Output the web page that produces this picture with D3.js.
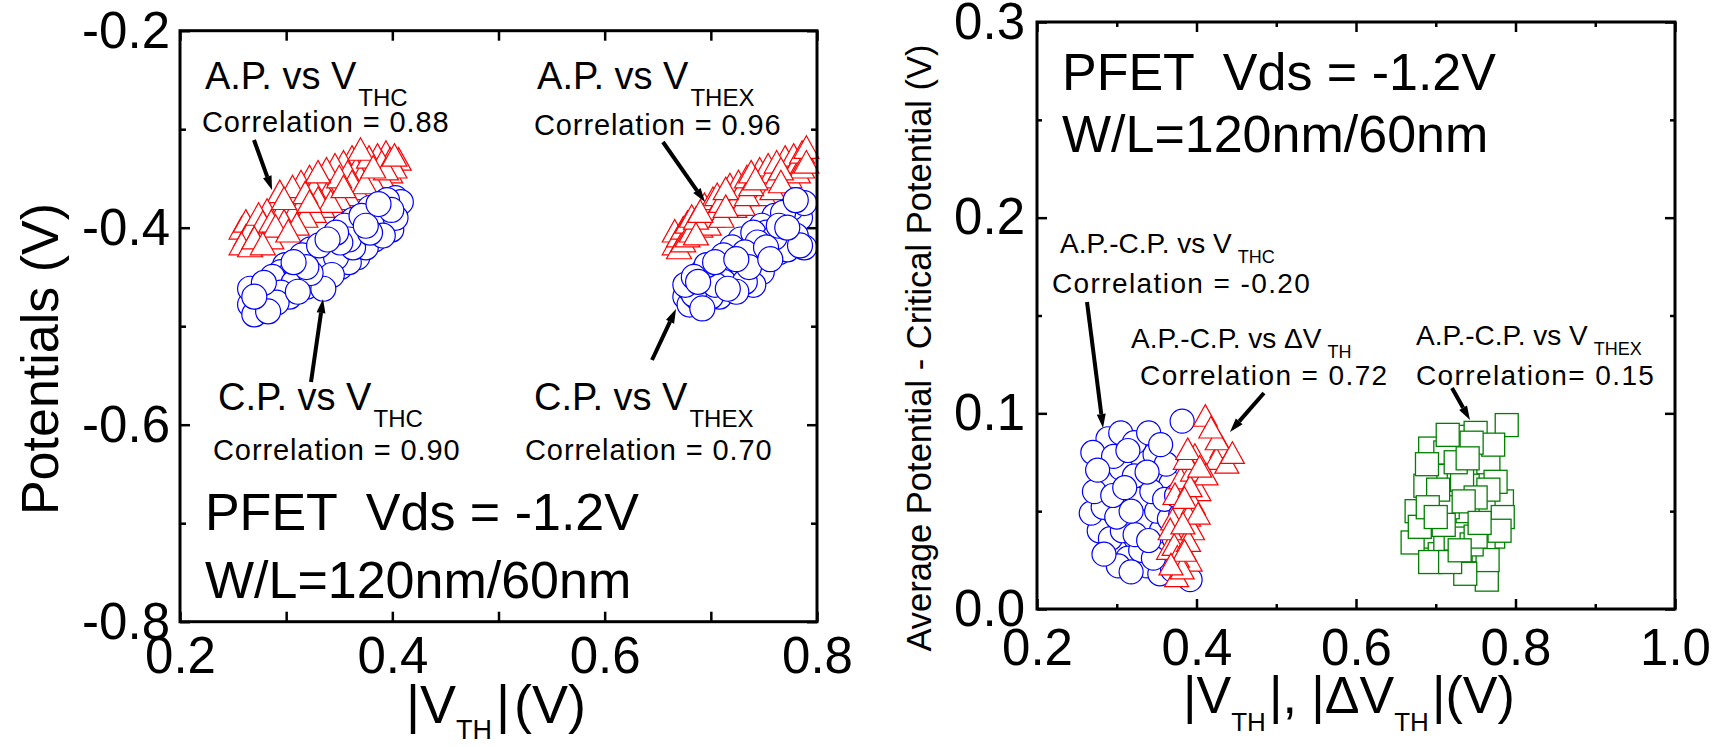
<!DOCTYPE html>
<html>
<head>
<meta charset="utf-8">
<script src="https://cdn.jsdelivr.net/npm/d3@7"></script>
<style>
  body { margin: 0; background: #fff; }
  text { font-family: "Liberation Sans", Arial, sans-serif; }
</style>
</head>
<body>
<svg id="chart" width="1719" height="747"></svg>
<script>
// ---------- data ----------
// left panel: average / critical potential vs |Vth|
var apVsThc = [[0.258,-0.402],[0.258,-0.418],[0.262,-0.41],[0.262,-0.395],[0.266,-0.42],[0.266,-0.404],[0.27,-0.398],
  [0.27,-0.412],[0.274,-0.388],[0.274,-0.405],[0.278,-0.418],[0.278,-0.396],[0.282,-0.384],[0.282,-0.405],[0.286,-0.395],
  [0.286,-0.412],[0.29,-0.378],[0.29,-0.4],[0.294,-0.388],[0.294,-0.365],[0.298,-0.372],[0.298,-0.395],[0.302,-0.382],
  [0.302,-0.405],[0.306,-0.36],[0.306,-0.388],[0.31,-0.372],[0.31,-0.398],[0.314,-0.355],[0.314,-0.38],[0.318,-0.366],
  [0.318,-0.39],[0.322,-0.35],[0.322,-0.375],[0.326,-0.362],[0.326,-0.385],[0.33,-0.345],[0.33,-0.372],[0.334,-0.356],
  [0.334,-0.38],[0.338,-0.342],[0.338,-0.368],[0.342,-0.352],[0.342,-0.375],[0.346,-0.338],[0.346,-0.362],[0.35,-0.35],
  [0.35,-0.372],[0.354,-0.335],[0.354,-0.36],[0.358,-0.345],[0.358,-0.368],[0.362,-0.33],[0.362,-0.355],[0.366,-0.342],
  [0.366,-0.362],[0.37,-0.322],[0.37,-0.35],[0.374,-0.338],[0.374,-0.356],[0.378,-0.33],[0.378,-0.35],[0.382,-0.34],
  [0.382,-0.355],[0.386,-0.328],[0.386,-0.345],[0.39,-0.335],[0.39,-0.35],[0.394,-0.325],[0.394,-0.342],[0.398,-0.332],
  [0.398,-0.345],[0.402,-0.328],[0.402,-0.34],[0.406,-0.332]];
var cpVsThc = [[0.266,-0.478],[0.266,-0.462],[0.27,-0.488],[0.27,-0.47],[0.274,-0.466],[0.274,-0.48],[0.279,-0.456],
  [0.279,-0.474],[0.283,-0.468],[0.283,-0.485],[0.287,-0.45],[0.287,-0.462],[0.291,-0.476],[0.291,-0.455],[0.295,-0.445],
  [0.295,-0.466],[0.299,-0.458],[0.299,-0.438],[0.303,-0.47],[0.303,-0.448],[0.307,-0.435],[0.307,-0.456],[0.311,-0.444],
  [0.311,-0.465],[0.315,-0.428],[0.315,-0.452],[0.319,-0.44],[0.319,-0.46],[0.323,-0.422],[0.323,-0.446],[0.327,-0.434],
  [0.327,-0.455],[0.331,-0.418],[0.331,-0.442],[0.335,-0.428],[0.335,-0.462],[0.339,-0.436],[0.339,-0.412],[0.343,-0.448],
  [0.343,-0.422],[0.347,-0.405],[0.347,-0.43],[0.351,-0.44],[0.351,-0.415],[0.355,-0.398],[0.355,-0.425],[0.359,-0.412],
  [0.359,-0.435],[0.363,-0.392],[0.363,-0.42],[0.367,-0.405],[0.367,-0.43],[0.371,-0.388],[0.371,-0.412],[0.375,-0.398],
  [0.375,-0.42],[0.379,-0.38],[0.379,-0.405],[0.383,-0.392],[0.383,-0.412],[0.387,-0.376],[0.387,-0.4],[0.391,-0.385],
  [0.391,-0.408],[0.395,-0.372],[0.395,-0.395],[0.399,-0.382],[0.399,-0.402],[0.403,-0.37],[0.403,-0.39],[0.408,-0.374]];
var apVsThex = [[0.666,-0.418],[0.666,-0.405],[0.67,-0.41],[0.67,-0.422],[0.674,-0.402],[0.674,-0.415],[0.678,-0.396],
  [0.678,-0.41],[0.682,-0.405],[0.682,-0.39],[0.686,-0.392],[0.686,-0.408],[0.69,-0.385],[0.69,-0.4],[0.694,-0.395],
  [0.694,-0.378],[0.698,-0.385],[0.698,-0.398],[0.702,-0.372],[0.702,-0.39],[0.706,-0.382],[0.706,-0.368],[0.71,-0.375],
  [0.71,-0.39],[0.714,-0.362],[0.714,-0.38],[0.718,-0.372],[0.718,-0.358],[0.722,-0.365],[0.722,-0.38],[0.726,-0.355],
  [0.726,-0.37],[0.73,-0.362],[0.73,-0.378],[0.734,-0.35],[0.734,-0.368],[0.738,-0.358],[0.738,-0.345],[0.742,-0.352],
  [0.742,-0.366],[0.746,-0.342],[0.746,-0.36],[0.75,-0.35],[0.75,-0.368],[0.754,-0.338],[0.754,-0.356],[0.758,-0.345],
  [0.758,-0.362],[0.762,-0.335],[0.762,-0.35],[0.766,-0.342],[0.766,-0.355],[0.77,-0.33],[0.77,-0.348],[0.774,-0.338],
  [0.774,-0.35],[0.778,-0.328],[0.778,-0.342],[0.782,-0.335],[0.782,-0.345],[0.786,-0.325],[0.786,-0.34],[0.79,-0.32],
  [0.79,-0.335]];
var cpVsThex = [[0.676,-0.47],[0.676,-0.458],[0.68,-0.462],[0.68,-0.478],[0.684,-0.45],[0.684,-0.468],[0.688,-0.472],
  [0.688,-0.455],[0.692,-0.482],[0.692,-0.445],[0.696,-0.46],[0.696,-0.438],[0.7,-0.47],[0.7,-0.448],[0.704,-0.435],
  [0.704,-0.458],[0.708,-0.448],[0.708,-0.47],[0.712,-0.428],[0.712,-0.455],[0.716,-0.44],[0.716,-0.462],[0.72,-0.42],
  [0.72,-0.45],[0.724,-0.432],[0.724,-0.465],[0.728,-0.412],[0.728,-0.445],[0.732,-0.425],[0.732,-0.455],[0.736,-0.418],
  [0.736,-0.44],[0.74,-0.405],[0.74,-0.458],[0.744,-0.43],[0.744,-0.415],[0.748,-0.398],[0.748,-0.445],[0.752,-0.42],
  [0.752,-0.405],[0.756,-0.395],[0.756,-0.432],[0.76,-0.41],[0.76,-0.388],[0.764,-0.425],[0.764,-0.398],[0.768,-0.385],
  [0.768,-0.41],[0.772,-0.4],[0.772,-0.422],[0.776,-0.38],[0.776,-0.395],[0.78,-0.372],[0.78,-0.408],[0.784,-0.39],
  [0.784,-0.418],[0.788,-0.375],[0.788,-0.42]];

// right panel: A.P. - C.P.
var diffVsThc = [[0.289,0.087],[0.305,0.09],[0.322,0.085],[0.34,0.09],[0.355,0.084],[0.382,0.096],
  [0.27,0.08],[0.296,0.078],[0.314,0.081],[0.33,0.076],[0.348,0.079],[0.362,0.074],
  [0.276,0.071],[0.288,0.066],[0.305,0.072],[0.322,0.068],[0.338,0.07],[0.352,0.066],[0.368,0.064],
  [0.272,0.06],[0.295,0.058],[0.31,0.062],[0.327,0.056],[0.344,0.06],[0.36,0.056],[0.375,0.058],
  [0.268,0.049],[0.283,0.052],[0.3,0.047],[0.318,0.05],[0.334,0.045],[0.35,0.05],[0.366,0.046],[0.38,0.048],
  [0.278,0.04],[0.292,0.036],[0.307,0.04],[0.323,0.038],[0.34,0.035],[0.356,0.04],[0.372,0.036],[0.386,0.04],
  [0.284,0.028],[0.298,0.03],[0.314,0.026],[0.33,0.03],[0.346,0.026],[0.362,0.03],[0.378,0.026],
  [0.302,0.022],[0.318,0.019],[0.338,0.022],[0.354,0.018],[0.37,0.02],[0.392,0.015]];
var diffVsDvth = [[0.411,0.098],[0.418,0.092],[0.426,0.086],[0.432,0.082],[0.445,0.079],[0.438,0.074],[0.425,0.076],
  [0.389,0.081],[0.386,0.076],[0.398,0.078],[0.404,0.072],[0.412,0.068],[0.395,0.07],
  [0.38,0.066],[0.392,0.062],[0.403,0.06],[0.373,0.058],[0.385,0.056],[0.396,0.053],[0.378,0.05],
  [0.402,0.048],[0.39,0.047],[0.37,0.045],[0.383,0.043],[0.395,0.04],[0.367,0.04],[0.378,0.037],[0.39,0.034],
  [0.372,0.032],[0.365,0.03],[0.385,0.029],[0.376,0.026],[0.392,0.024],[0.368,0.022],[0.382,0.02],[0.375,0.016]];
var diffVsThex = [[0.789,0.094],[0.75,0.09],[0.715,0.089],[0.693,0.082],[0.712,0.08],[0.74,0.077],[0.766,0.075],
  [0.772,0.084],[0.689,0.074],[0.733,0.066],[0.703,0.061],[0.72,0.058],[0.766,0.061],[0.75,0.057],[0.783,0.055],
  [0.676,0.05],[0.69,0.052],[0.727,0.044],[0.74,0.05],[0.755,0.044],[0.784,0.047],[0.71,0.043],[0.695,0.037],
  [0.671,0.034],[0.745,0.033],[0.772,0.037],[0.76,0.03],[0.718,0.024],[0.745,0.023],[0.693,0.024],[0.73,0.03],
  [0.764,0.015],[0.737,0.018],[0.705,0.028],[0.7,0.068],[0.725,0.075],[0.755,0.068],[0.68,0.042],[0.735,0.055],
  [0.76,0.05],[0.715,0.052],[0.7,0.047],[0.775,0.065],[0.745,0.085],[0.73,0.088],[0.725,0.036],[0.75,0.037],
  [0.712,0.033],[0.687,0.063],[0.78,0.04],[0.74,0.063],[0.765,0.025]];

// ticks
var leftXTicks = [0.2, 0.4, 0.6, 0.8], leftXMinor = [0.3, 0.5, 0.7];
var leftYTicks = [-0.8, -0.6, -0.4, -0.2], leftYMinor = [-0.7, -0.5, -0.3];
var rightXTicks = [0.2, 0.4, 0.6, 0.8, 1.0], rightXMinor = [0.3, 0.5, 0.7, 0.9];
var rightYTicks = [0.0, 0.1, 0.2, 0.3], rightYMinor = [0.05, 0.15, 0.25];

// annotation texts (anchored in data units)
var leftNotes = [
  {x: 0.2235, y: -0.2592, main: "A.P. vs V", sub: "THC"},
  {x: 0.5363, y: -0.2592, main: "A.P. vs V", sub: "THEX"},
  {x: 0.2358, y: -0.585, main: "C.P. vs V", sub: "THC"},
  {x: 0.5334, y: -0.585, main: "C.P. vs V", sub: "THEX"}
];
var leftCorr = [
  {x: 0.2207, y: -0.3028, t: "Correlation = 0.88"},
  {x: 0.5334, y: -0.3059, t: "Correlation = 0.96"},
  {x: 0.2311, y: -0.6358, t: "Correlation = 0.90"},
  {x: 0.525, y: -0.6358, t: "Correlation = 0.70"}
];
var leftArrows = [
  [0.2697, -0.311, 0.2867, -0.3617],
  [0.6549, -0.313, 0.6945, -0.3739],
  [0.3234, -0.5566, 0.3347, -0.4724],
  [0.6446, -0.5343, 0.6672, -0.4826]
];
var rightNotes = [
  {x: 0.2288, y: 0.1819, main: "A.P.-C.P. vs V", sub: "THC"},
  {x: 0.3179, y: 0.1334, main: "A.P.-C.P. vs \u0394V", sub: "TH"},
  {x: 0.6752, y: 0.1349, main: "A.P.-C.P. vs V", sub: "THEX"}
];
var rightCorr = [
  {x: 0.2188, y: 0.1615, t: "Correlation = -0.20"},
  {x: 0.3292, y: 0.1145, t: "Correlation = 0.72"},
  {x: 0.6752, y: 0.1145, t: "Correlation= 0.15"}
];
var rightArrows = [
  [0.2627, 0.1569, 0.2828, 0.0925],
  [0.4846, 0.1104, 0.442, 0.0905],
  [0.7204, 0.1129, 0.7429, 0.0966]
];

// ---------- drawing ----------
var svg = d3.select("#chart");
var FONT = "'Liberation Sans', Arial, sans-serif";

function fmt(d) { return d.toFixed(1); }

// the original plot draws samples in acquisition order, not sorted by x:
// interleave with a fixed stride so overlaps look like the figure
function interleave(arr, step) {
  var n = arr.length;
  while (d3.gcd ? d3.gcd(step, n) !== 1 : gcd(step, n) !== 1) step++;
  return d3.range(n).map(function(i) { return arr[(i * step) % n]; });
}
function gcd(a, b) { return b ? gcd(b, a % b) : a; }

// scales
var xL = d3.scaleLinear().domain([0.2, 0.8]).range([180, 817]),
    yL = d3.scaleLinear().domain([-0.8, -0.2]).range([621.7, 30.7]);
var xR = d3.scaleLinear().domain([0.2, 1.0]).range([1037, 1675]),
    yR = d3.scaleLinear().domain([0, 0.3]).range([609, 22]);

function styleAxis(g) {
  g.select(".domain").remove();
  g.selectAll(".tick line").attr("stroke", "#000").attr("stroke-width", 2.5);
  g.attr("font-family", FONT).attr("font-size", 51);
}
function bare(g) {
  styleAxis(g);
  g.selectAll(".tick text").remove();
}

function frame(x, y, o) {
  var x0 = x.range()[0], x1 = x.range()[1], y0 = y.range()[1], y1 = y.range()[0];
  // bottom & left with labels
  svg.append("g").attr("transform", "translate(0," + y1 + ")")
    .call(d3.axisBottom(x).tickValues(o.xt).tickFormat(fmt).tickSizeInner(-10).tickSizeOuter(0).tickPadding(o.xPad))
    .call(styleAxis);
  svg.append("g").attr("transform", "translate(" + x0 + ",0)")
    .call(d3.axisLeft(y).tickValues(o.yt).tickFormat(fmt).tickSizeInner(-10).tickSizeOuter(0).tickPadding(o.yPad))
    .call(styleAxis);
  // mirrored top & right
  svg.append("g").attr("transform", "translate(0," + y0 + ")")
    .call(d3.axisTop(x).tickValues(o.xt).tickSizeInner(-10).tickSizeOuter(0)).call(bare);
  svg.append("g").attr("transform", "translate(" + x1 + ",0)")
    .call(d3.axisRight(y).tickValues(o.yt).tickSizeInner(-10).tickSizeOuter(0)).call(bare);
  // minor ticks
  svg.append("g").attr("transform", "translate(0," + y1 + ")")
    .call(d3.axisBottom(x).tickValues(o.xm).tickSizeInner(-o.xmLen).tickSizeOuter(0)).call(bare);
  svg.append("g").attr("transform", "translate(0," + y0 + ")")
    .call(d3.axisTop(x).tickValues(o.xm).tickSizeInner(-o.xmLen).tickSizeOuter(0)).call(bare);
  svg.append("g").attr("transform", "translate(" + x0 + ",0)")
    .call(d3.axisLeft(y).tickValues(o.ym).tickSizeInner(-o.ymLen).tickSizeOuter(0)).call(bare);
  svg.append("g").attr("transform", "translate(" + x1 + ",0)")
    .call(d3.axisRight(y).tickValues(o.ym).tickSizeInner(-o.ymLen).tickSizeOuter(0)).call(bare);
  // box
  svg.append("rect")
    .attr("x", x0).attr("y", y0).attr("width", x1 - x0).attr("height", y1 - y0)
    .attr("fill", "none").attr("stroke", "#000").attr("stroke-width", 3);
}

function circles(data, x, y, r, color) {
  svg.append("g").selectAll("circle").data(interleave(data, 17)).enter().append("circle")
    .attr("cx", function(d) { return x(d[0]); })
    .attr("cy", function(d) { return y(d[1]); })
    .attr("r", r)
    .attr("fill", "#fff").attr("stroke", color).attr("stroke-width", 1.2);
}

function triangles(data, x, y, hw, color) {
  svg.append("g").selectAll("path").data(interleave(data, 13)).enter().append("path")
    .attr("d", "M0," + (-hw * 1.05) + "L" + hw + "," + (hw * 0.75) + "L" + (-hw) + "," + (hw * 0.75) + "Z")
    .attr("transform", function(d) { return "translate(" + x(d[0]) + "," + y(d[1]) + ")"; })
    .attr("fill", "#fff").attr("stroke", color).attr("stroke-width", 1.2);
}

function squares(data, x, y, s, color) {
  svg.append("g").selectAll("rect").data(interleave(data, 11)).enter().append("rect")
    .attr("x", function(d) { return x(d[0]) - s / 2; })
    .attr("y", function(d) { return y(d[1]) - s / 2; })
    .attr("width", s).attr("height", s)
    .attr("fill", "#fff").attr("stroke", color).attr("stroke-width", 1.3);
}

function notes(list, x, y, size, subSize, subDy, subDx) {
  list.forEach(function(n) {
    var t = svg.append("text").attr("x", x(n.x)).attr("y", y(n.y))
      .attr("font-size", size).style("white-space", "pre").text(n.main);
    t.append("tspan").attr("dx", subDx).attr("dy", subDy).attr("font-size", subSize).text(n.sub);
  });
}

function corr(list, x, y, size, spacing) {
  svg.append("g").selectAll("text").data(list).enter().append("text")
    .attr("x", function(d) { return x(d.x); })
    .attr("y", function(d) { return y(d.y); })
    .attr("font-size", size).attr("letter-spacing", spacing)
    .style("white-space", "pre")
    .text(function(d) { return d.t; });
}

function arrows(list, x, y) {
  list.forEach(function(a) {
    var x1 = x(a[0]), y1 = y(a[1]), x2 = x(a[2]), y2 = y(a[3]);
    var dx = x2 - x1, dy = y2 - y1, len = Math.sqrt(dx * dx + dy * dy);
    var ux = dx / len, uy = dy / len, hl = 14, hw = 4.5;
    var bx = x2 - ux * hl, by = y2 - uy * hl;
    svg.append("line").attr("x1", x1).attr("y1", y1).attr("x2", bx).attr("y2", by)
      .attr("stroke", "#000").attr("stroke-width", 4);
    svg.append("path")
      .attr("d", "M" + x2 + "," + y2 + "L" + (bx - uy * hw) + "," + (by + ux * hw) +
                 "L" + (bx + uy * hw) + "," + (by - ux * hw) + "Z")
      .attr("fill", "#000");
  });
}

// ----- left panel -----
triangles(apVsThc, xL, yL, 12.5, "#ff0000");
circles(cpVsThc, xL, yL, 12.5, "#0000ff");
triangles(apVsThex, xL, yL, 12.5, "#ff0000");
circles(cpVsThex, xL, yL, 12.5, "#0000ff");
frame(xL, yL, {xt: leftXTicks, xm: leftXMinor, yt: leftYTicks, ym: leftYMinor,
               xPad: 15, yPad: 10, xmLen: 10, ymLen: 6});

notes(leftNotes, xL, yL, 38, 24, 17, 2);
corr(leftCorr, xL, yL, 29, 0.9);
arrows(leftArrows, xL, yL);

svg.append("text").attr("x", xL(0.2235)).attr("y", yL(-0.707))
  .attr("font-size", 52).style("white-space", "pre").text("PFET  Vds = -1.2V");
svg.append("text").attr("x", xL(0.2235)).attr("y", yL(-0.776))
  .attr("font-size", 52).text("W/L=120nm/60nm");

// axis titles
svg.append("text")
  .attr("transform", "translate(58,359) rotate(-90)")
  .attr("text-anchor", "middle").attr("font-size", 52)
  .text("Potentials (V)");
var tl = svg.append("text").attr("x", 406).attr("y", 723).attr("font-size", 54);
tl.append("tspan").text("|V");
tl.append("tspan").attr("dy", 16).attr("font-size", 27).text("TH");
tl.append("tspan").attr("dy", -16).attr("dx", 4).text("|");
tl.append("tspan").attr("dx", 4).text("(V)");

// ----- right panel -----
circles(diffVsThc, xR, yR, 12, "#0000ff");
triangles(diffVsDvth, xR, yR, 12, "#ff0000");
squares(diffVsThex, xR, yR, 23, "#008000");
frame(xR, yR, {xt: rightXTicks, xm: rightXMinor, yt: rightYTicks, ym: rightYMinor,
               xPad: 20, yPad: 12, xmLen: 5, ymLen: 5});

notes(rightNotes, xR, yR, 28, 18, 10, 6);
corr(rightCorr, xR, yR, 28, 1.4);
arrows(rightArrows, xR, yR);

svg.append("text").attr("x", xR(0.2313)).attr("y", yR(0.2652))
  .attr("font-size", 52).style("white-space", "pre").text("PFET  Vds = -1.2V");
svg.append("text").attr("x", xR(0.2313)).attr("y", yR(0.2336))
  .attr("font-size", 52).text("W/L=120nm/60nm");

svg.append("text")
  .attr("transform", "translate(931,348) rotate(-90)")
  .attr("text-anchor", "middle").attr("font-size", 34.5)
  .text("Average Potential - Critical Potential (V)");
var tr = svg.append("text").attr("x", 1183).attr("y", 713).attr("font-size", 52);
tr.append("tspan").text("|V");
tr.append("tspan").attr("dy", 18).attr("font-size", 26).text("TH");
tr.append("tspan").attr("dy", -18).attr("dx", 3).text("|, |\u0394V");
tr.append("tspan").attr("dy", 18).attr("font-size", 26).text("TH");
tr.append("tspan").attr("dy", -18).attr("dx", 3).text("|(V)");
</script>
</body>
</html>
